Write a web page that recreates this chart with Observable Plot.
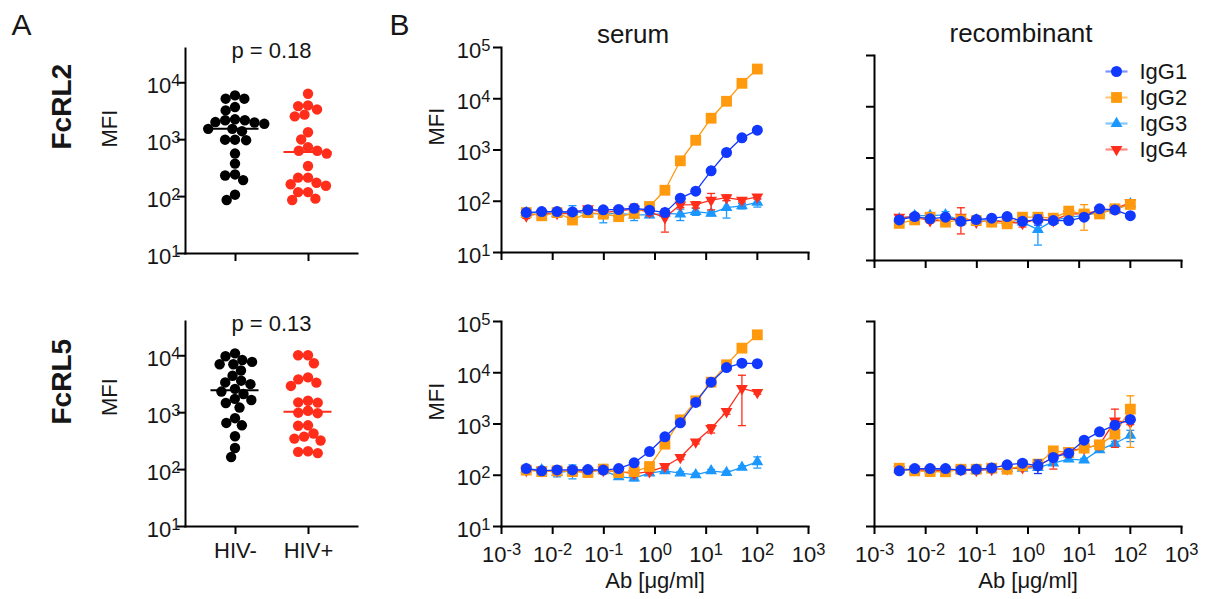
<!DOCTYPE html>
<html><head><meta charset="utf-8">
<script src="https://cdn.jsdelivr.net/npm/d3@7"></script>
<script src="https://cdn.jsdelivr.net/npm/@observablehq/plot@0.6"></script>
<style>
html,body{margin:0;padding:0;background:#fff;}
#chart{position:relative;width:1206px;height:599px;overflow:hidden;}
</style></head>
<body><div id="chart"></div>
<script>
// ---------------- data ----------------
const groups = ["HIV-", "HIV+"];
const fcrl2Neg = [6000, 5250, 5250, 3740, 3270, 2280, 2190, 2190, 2040, 2000, 1900, 1550, 1550, 1410, 1000, 1000, 980, 570, 380, 245, 235, 195, 108, 87];
const fcrl2Pos = [6400, 4000, 3890, 3400, 2750, 2570, 1350, 1010, 740, 640, 640, 570, 345, 215, 215, 175, 165, 155, 120, 120, 92, 87];
const fcrl5Neg = [11000, 9800, 8400, 7800, 7100, 7100, 5500, 4450, 3650, 3400, 3170, 2620, 2350, 2130, 1750, 1670, 1480, 1230, 800, 660, 600, 385, 240, 166];
const fcrl5Pos = [10200, 10200, 7400, 4170, 3850, 3370, 2950, 1620, 1520, 1500, 1080, 1000, 980, 600, 590, 430, 380, 350, 325, 210, 205, 195];
const pLabels = ["p = 0.18", "p = 0.13"];
const rowLabels = ["FcRL2", "FcRL5"];
const colLabels = ["serum", "recombinant"];

const isotypes = ["IgG1", "IgG2", "IgG3", "IgG4"];
const conc = [0.00305, 0.0061, 0.0122, 0.0244, 0.0488, 0.0977, 0.195, 0.391, 0.781, 1.5625, 3.125, 6.25, 12.5, 25, 50, 100];

// FcRL2, serum
const s2_IgG1 = [60, 63, 63, 62, 68, 68, 69, 73, 67, 60, 115, 157, 392, 894, 1730, 2440];
const s2_IgG2 = [60, 52, 60, 43, 60, 56, 50, 58, 79, 164, 615, 1550, 4170, 8930, 20000, 38000];
const s2_IgG3 = [60, 60, 58, 62, 58, 56, 58, 54, 54, 58, 56, 63, 58, 75, 81, 95];
const s2_IgG4 = [52, 58, 58, 57, 72, 60, 65, 70, 62, 48, 85, 86, 105, 118, 105, 122];
const s2_IgG1_sd = [3, 4, 4, 4, 5, 5, 5, 5, 5, 5, 8, 10, 20, 40, 80, 100];
const s2_IgG2_sd = [5, 4, 5, 5, 6, 6, 5, 6, 8, 10, 30, 60, 150, 300, 800, 1500];
const s2_IgG3_sd = [5, 5, 6, 20, 6, 18, 8, 12, 6, 6, 14, 10, 6, 28, 10, 18];
const s2_IgG4_sd = [6, 6, 6, 6, 6, 6, 8, 18, 10, 23, 10, 12, 37, 15, 8, 12];
// FcRL2, recombinant
const r2_IgG1 = [62, 72, 65, 70, 58, 63, 67, 72, 58, 63, 60, 60, 70, 102, 97, 75];
const r2_IgG2 = [53, 62, 70, 56, 62, 60, 56, 52, 70, 70, 67, 92, 81, 81, 102, 124];
const r2_IgG3 = [65, 75, 75, 78, 60, 62, 62, 56, 56, 40, 60, 70, 75, 88, 97, 128];
const r2_IgG4 = [70, 70, 60, 60, 70, 56, 60, 56, 53, 65, 60, 81, 81, 95, 102, 135];
const r2_IgG1_sd = [6, 10, 6, 6, 6, 8, 6, 10, 6, 14, 6, 6, 8, 8, 8, 4];
const r2_IgG2_sd = [6, 8, 8, 4, 6, 6, 6, 6, 6, 6, 8, 8, 42, 8, 12, 10];
const r2_IgG3_sd = [6, 8, 10, 12, 6, 10, 6, 6, 6, 20, 8, 6, 8, 8, 8, 10];
const r2_IgG4_sd = [8, 8, 6, 6, 37, 6, 8, 8, 8, 8, 6, 6, 6, 8, 8, 10];
// FcRL5, serum
const s5_IgG1 = [135, 122, 127, 127, 129, 126, 135, 175, 290, 562, 1055, 2630, 6550, 12600, 15400, 15000];
const s5_IgG2 = [126, 118, 122, 118, 113, 132, 113, 118, 148, 404, 1205, 2830, 6550, 14300, 30200, 55000];
const s5_IgG3 = [132, 128, 113, 122, 125, 125, 93, 88, 110, 122, 110, 102, 122, 113, 142, 183];
const s5_IgG4 = [125, 125, 122, 120, 120, 125, 118, 108, 118, 148, 222, 449, 817, 1750, 4930, 4120];
const s5_IgG1_sd = [8, 8, 8, 8, 8, 8, 8, 10, 15, 30, 50, 100, 300, 600, 800, 800];
const s5_IgG2_sd = [8, 8, 8, 8, 8, 8, 8, 8, 10, 20, 60, 150, 300, 700, 1500, 2000];
const s5_IgG3_sd = [10, 10, 20, 37, 10, 10, 8, 10, 8, 8, 8, 8, 8, 8, 12, 45];
const s5_IgG4_sd = [10, 10, 10, 10, 10, 10, 10, 8, 8, 10, 20, 40, 150, 200, 4000, 300];
// FcRL5, recombinant
const r5_IgG1 = [122, 135, 135, 135, 126, 131, 138, 160, 172, 153, 222, 270, 484, 703, 950, 1225];
const r5_IgG2 = [137, 122, 118, 117, 131, 131, 137, 131, 153, 165, 299, 278, 338, 392, 633, 1950];
const r5_IgG3 = [130, 128, 128, 130, 125, 125, 132, 135, 137, 141, 172, 206, 198, 313, 417, 604];
const r5_IgG4 = [130, 128, 125, 125, 128, 125, 130, 135, 141, 153, 222, 299, 338, 392, 1150, 1070];
const r5_IgG1_sd = [8, 8, 8, 8, 8, 8, 8, 10, 10, 45, 15, 20, 30, 40, 60, 80];
const r5_IgG2_sd = [8, 8, 8, 8, 8, 8, 8, 8, 10, 10, 20, 20, 30, 40, 80, 1600];
const r5_IgG3_sd = [8, 8, 8, 8, 8, 8, 8, 8, 10, 10, 10, 20, 15, 30, 40, 150];
const r5_IgG4_sd = [8, 8, 8, 8, 8, 8, 8, 8, 10, 10, 90, 20, 30, 40, 800, 100];

const yTicksA = [10, 100, 1000, 10000];
const yTicksB = [10, 100, 1000, 10000, 100000];
const xTicksB = [0.001, 0.01, 0.1, 1, 10, 100, 1000];

// ---------------- style ----------------
const W = 1206, H = 599;
const FONT = '"Liberation Sans", Arial, Helvetica, sans-serif';
const INK = "#161616";
const RED = "#ff2d1a";
const isoColor = {IgG1: "#1038ff", IgG2: "#ff9a0e", IgG3: "#1a98ff", IgG4: "#ff2d1a"};
const capSym = {draw(ctx, size) { const r = Math.sqrt(size / Math.PI); ctx.moveTo(-r, 0); ctx.lineTo(r, 0); }};
const triDown = {draw(ctx, size) { const y = -Math.sqrt(size / (Math.sqrt(3) * 3)); const s3 = Math.sqrt(3);
  ctx.moveTo(0, -2 * y); ctx.lineTo(-s3 * y, y); ctx.lineTo(s3 * y, y); ctx.closePath(); }};
const isoSymbol = {IgG1: "circle", IgG2: "square", IgG3: "triangle", IgG4: triDown};
const isoR = {IgG1: 5.5, IgG2: 6.1, IgG3: 4.4, IgG4: 4.4};

// frames: [left, right, top, bottom] in page pixels
const A_TOP = [185, 357, 48, 253];
const A_BOT = [185, 357, 321, 526];
const B_SER_TOP = [501, 808, 47, 252];
const B_REC_TOP = [874, 1181, 55, 260];
const B_SER_BOT = [501, 808, 321, 526];
const B_REC_BOT = [874, 1181, 321, 526];
const LEGEND = [1105, 1127, 70, 149];

function page([x0, x1, y0, y1]) {
  return {width: W, height: H, marginLeft: x0, marginRight: W - x1, marginTop: y0, marginBottom: H - y1,
    style: {fontFamily: FONT, fontSize: "22px", background: "transparent", overflow: "visible",
            position: "absolute", left: "0px", top: "0px", maxWidth: "none", color: "#000"}};
}
const pow10 = d => "10^" + Math.round(Math.log10(d));
const blank = () => "";

function supify(svg) {
  const ns = "http://www.w3.org/2000/svg";
  svg.querySelectorAll("text").forEach(t => {
    const m = /^10\^(-?\d+)$/.exec(t.textContent);
    if (!m) return;
    const g = t.closest("g");
    const isY = g && g.getAttribute("text-anchor") === "end";
    t.textContent = "";
    const a = document.createElementNS(ns, "tspan");
    a.textContent = "10";
    if (isY) a.setAttribute("dy", "3");
    const b = document.createElementNS(ns, "tspan");
    b.textContent = m[1];
    b.setAttribute("dy", "-7");
    b.setAttribute("font-size", "0.75em");
    t.append(a, b);
  });
  return svg;
}
function label(txt, opts) {
  return Plot.text([txt], {text: d => d, fill: INK, lineAnchor: "middle", fontSize: 22, ...opts});
}

// ---------------- panel A ----------------
function panelAAxes(frame, showX, extra) {
  return Plot.plot({...page(frame),
    x: {type: "point", domain: groups, padding: 0.678},
    y: {type: "log", domain: [10, 40000]},
    marks: [
      Plot.frame({anchor: "left", stroke: "#000", strokeWidth: 2}),
      Plot.frame({anchor: "bottom", stroke: "#000", strokeWidth: 2}),
      Plot.axisY({ticks: yTicksA, tickSize: 8, tickPadding: -3, tickFormat: pow10, label: null, strokeWidth: 2, fill: INK}),
      Plot.axisX({tickSize: 8, tickPadding: 8, tickFormat: showX ? (d => d) : blank, label: null, strokeWidth: 2, fontSize: 22, fill: INK}),
      ...extra
    ]});
}
function panelADots(frame, neg, pos) {
  const data = [...neg.map(v => ({g: "HIV-", v})), ...pos.map(v => ({g: "HIV+", v}))];
  return Plot.plot({...page(frame),
    fx: {domain: groups, paddingInner: 0.342, paddingOuter: 0.349, axis: null, round: false},
    y: {type: "log", domain: [10, 40000], axis: null},
    color: {domain: groups, range: ["#000000", RED]},
    marks: [
      Plot.dot(data, Plot.dodgeX({anchor: "middle", padding: -0.5}, {fx: "g", y: "v", r: 5.2, fill: "g"})),
      Plot.tickY(data, Plot.groupZ({y: "median"}, {fx: "g", y: "v", stroke: "g", strokeWidth: 2}))
    ]});
}

// ---------------- panel B ----------------
function panelB(frame, series, xLabels, yLabels, extra) {
  const marks = [
    Plot.frame({anchor: "left", stroke: "#000", strokeWidth: 2}),
    Plot.frame({anchor: "bottom", stroke: "#000", strokeWidth: 2}),
    Plot.axisY({ticks: yTicksB, tickSize: 8, tickPadding: 3, tickFormat: yLabels ? pow10 : blank, label: null, strokeWidth: 2, fill: INK}),
    Plot.axisX({ticks: xTicksB, tickSize: 8, tickPadding: 12, tickFormat: xLabels ? pow10 : blank, label: null, strokeWidth: 2, fill: INK})
  ];
  for (const [iso, vals, sd] of series) {
    const d = conc.map((c, i) => ({c, v: vals[i], sd: sd[i]}));
    const col = isoColor[iso];
    marks.push(
      Plot.ruleX(d, {x: "c", y1: e => e.v - e.sd, y2: e => e.v + e.sd, stroke: col, strokeWidth: 1.3}),
      Plot.dot(d, {x: "c", y: e => e.v + e.sd, symbol: capSym, r: 4, stroke: col, fill: "none", strokeWidth: 1.3}),
      Plot.dot(d, {x: "c", y: e => e.v - e.sd, symbol: capSym, r: 4, stroke: col, fill: "none", strokeWidth: 1.3}),
      Plot.line(d, {x: "c", y: "v", stroke: col, strokeWidth: 1.3}),
      Plot.dot(d, {x: "c", y: "v", symbol: isoSymbol[iso], r: isoR[iso], fill: col, stroke: "none"})
    );
  }
  return Plot.plot({...page(frame),
    x: {type: "log", domain: [0.001, 1000]},
    y: {type: "log", domain: [10, 100000]},
    marks: [...marks, ...extra]});
}
function legendPlot(frame) {
  const marks = [];
  for (const iso of isotypes) {
    marks.push(
      Plot.dot([iso], {y: d => d, symbol: capSym, r: 11, stroke: isoColor[iso], strokeOpacity: 0.55, strokeWidth: 2.2, fill: "none"}),
      Plot.dot([iso], {y: d => d, symbol: isoSymbol[iso], r: isoR[iso], fill: isoColor[iso]})
    );
  }
  marks.push(Plot.text(isotypes, {y: d => d, text: d => d, frameAnchor: "right", textAnchor: "start", dx: 12, fontSize: 22, fill: INK, lineAnchor: "middle"}));
  return Plot.plot({...page(frame), y: {type: "point", domain: isotypes, padding: 0, axis: null}, marks});
}

// ---------------- assemble ----------------
const chart = document.getElementById("chart");
const plots = [
  panelAAxes(A_TOP, false, [
    label("A", {frameAnchor: "top-left", textAnchor: "start", dx: -174, dy: -23.6, fontSize: 30}),
    label(rowLabels[0], {frameAnchor: "left", rotate: -90, dx: -123.5, dy: -1.5, fontSize: 28, fontWeight: "bold"}),
    label("MFI", {frameAnchor: "left", rotate: -90, dx: -76, dy: -3.5}),
    label(pLabels[0], {frameAnchor: "top", dy: 2})
  ]),
  panelADots(A_TOP, fcrl2Neg, fcrl2Pos),
  panelAAxes(A_BOT, true, [
    label(rowLabels[1], {frameAnchor: "left", rotate: -90, dx: -123.5, dy: 0.5, fontSize: 28, fontWeight: "bold"}),
    label("MFI", {frameAnchor: "left", rotate: -90, dx: -76, dy: -8}),
    label(pLabels[1], {frameAnchor: "top", dy: 2})
  ]),
  panelADots(A_BOT, fcrl5Neg, fcrl5Pos),
  panelB(B_SER_TOP, [["IgG3", s2_IgG3, s2_IgG3_sd], ["IgG4", s2_IgG4, s2_IgG4_sd], ["IgG2", s2_IgG2, s2_IgG2_sd], ["IgG1", s2_IgG1, s2_IgG1_sd]], false, true, [
    label("B", {frameAnchor: "top-left", textAnchor: "start", dx: -112, dy: -22.6, fontSize: 30}),
    label(colLabels[0], {frameAnchor: "top", dx: -22, dy: -13.3, fontSize: 26}),
    label("MFI", {frameAnchor: "left", rotate: -90, dx: -64.5, dy: -4.5})
  ]),
  panelB(B_REC_TOP, [["IgG3", r2_IgG3, r2_IgG3_sd], ["IgG4", r2_IgG4, r2_IgG4_sd], ["IgG2", r2_IgG2, r2_IgG2_sd], ["IgG1", r2_IgG1, r2_IgG1_sd]], false, false, [
    label(colLabels[1], {frameAnchor: "top", dx: -7, dy: -22.3, fontSize: 26})
  ]),
  panelB(B_SER_BOT, [["IgG3", s5_IgG3, s5_IgG3_sd], ["IgG4", s5_IgG4, s5_IgG4_sd], ["IgG2", s5_IgG2, s5_IgG2_sd], ["IgG1", s5_IgG1, s5_IgG1_sd]], true, true, [
    label("MFI", {frameAnchor: "left", rotate: -90, dx: -64.5, dy: -3.5}),
    label("Ab [μg/ml]", {frameAnchor: "bottom", dy: 54})
  ]),
  panelB(B_REC_BOT, [["IgG3", r5_IgG3, r5_IgG3_sd], ["IgG4", r5_IgG4, r5_IgG4_sd], ["IgG2", r5_IgG2, r5_IgG2_sd], ["IgG1", r5_IgG1, r5_IgG1_sd]], true, false, [
    label("Ab [μg/ml]", {frameAnchor: "bottom", dy: 54})
  ]),
  legendPlot(LEGEND)
];
for (const p of plots) chart.appendChild(supify(p));
</script>
</body></html>
